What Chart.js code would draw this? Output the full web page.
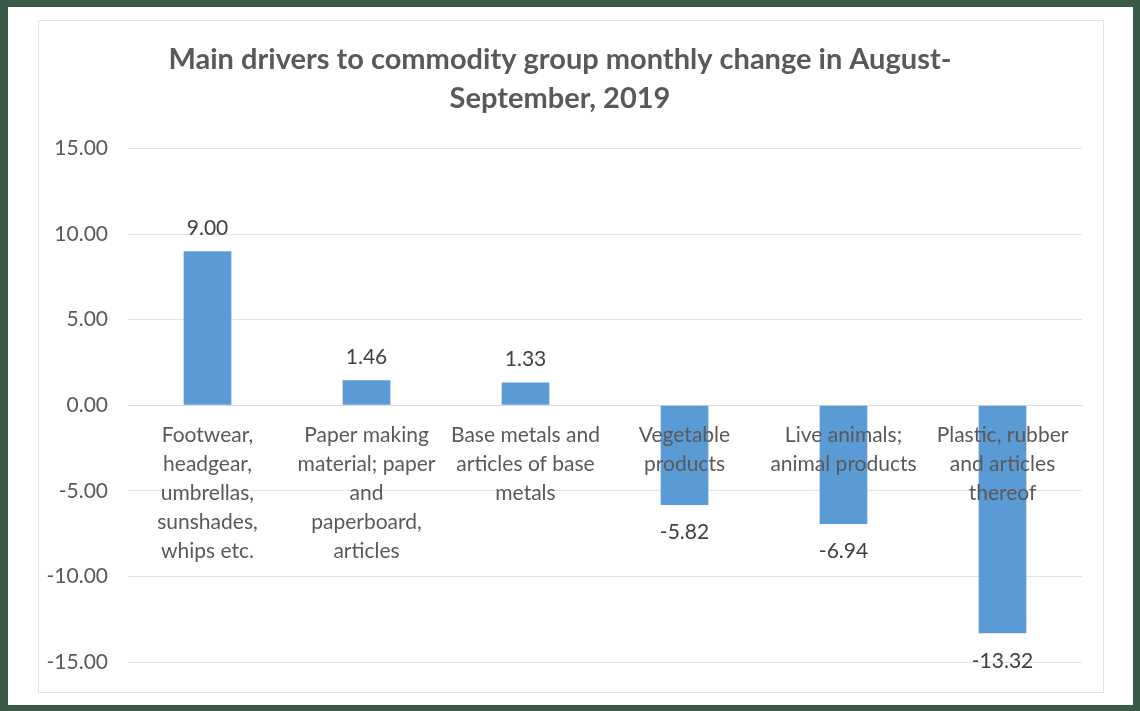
<!DOCTYPE html>
<html>
<head>
<meta charset="utf-8">
<script src="https://cdn.jsdelivr.net/npm/chart.js@4"></script>
<style>
    body { margin: 0; background: #3b5947; }
    #sheet { position: absolute; left: 8px; top: 7px; width: 1125px; height: 698px; background: #ffffff; }
    #frame { position: absolute; left: 38px; top: 20px; width: 1064px; height: 671px; border: 1px solid #e3e3e3; }
    #chart { position: absolute; left: 0; top: 0; }
</style>
</head>
<body>
<div id="sheet"></div>
<div id="frame"></div>
<canvas id="chart" width="1140" height="711"></canvas>
<script>
// categories (wrapped the same way as the original)
const categories = [
    ['Footwear,', 'headgear,', 'umbrellas,', 'sunshades,', 'whips etc.'],
    ['Paper making', 'material; paper', 'and', 'paperboard,', 'articles'],
    ['Base metals and', 'articles of base', 'metals'],
    ['Vegetable', 'products'],
    ['Live animals;', 'animal products'],
    ['Plastic, rubber', 'and articles', 'thereof']
];
const changes = [9.00, 1.46, 1.33, -5.82, -6.94, -13.32];
const yTicks = [-15, -10, -5, 0, 5, 10, 15];

const textGrey = '#595959';
const fontFamily = 'Lato, "Open Sans", sans-serif';

// value labels above / below each bar
const valueLabels = {
    id: 'valueLabels',
    afterDatasetsDraw(chart) {
        const ctx = chart.ctx;
        const meta = chart.getDatasetMeta(0);
        ctx.save();
        ctx.font = '21px ' + fontFamily;
        ctx.fillStyle = '#404040';
        ctx.textAlign = 'center';
        meta.data.forEach(function (bar, i) {
            const v = changes[i];
            if (v >= 0) {
                ctx.textBaseline = 'bottom';
                ctx.fillText(v.toFixed(2), bar.x, bar.y - 13);
            } else {
                ctx.textBaseline = 'top';
                ctx.fillText(v.toFixed(2), bar.x, bar.y + 17);
            }
        });
        ctx.restore();
    }
};

new Chart(document.getElementById('chart'), {
    type: 'bar',
    data: {
        labels: categories,
        datasets: [{
            data: changes,
            backgroundColor: '#5b9bd5',
            borderWidth: 0,
            barPercentage: 0.3,
            categoryPercentage: 1
        }]
    },
    options: {
        responsive: false,
        animation: false,
        layout: { padding: { left: 38, right: 58, top: 41, bottom: 49 } },
        plugins: {
            legend: { display: false },
            tooltip: { enabled: false },
            title: {
                display: true,
                text: ['Main drivers to commodity group monthly change in August-', 'September, 2019'],
                color: textGrey,
                font: { family: fontFamily, size: 29, weight: 'bold', lineHeight: 1.32 },
                padding: { top: 0, bottom: 31 }
            }
        },
        scales: {
            x: {
                position: { y: 0 },
                grid: { display: false, drawTicks: false },
                border: { display: true, color: '#d9d9d9' },
                ticks: {
                    z: 1, // category text sits on top of the bars, like the original
                    color: textGrey,
                    font: { family: fontFamily, size: 21, lineHeight: 1.37 },
                    padding: 16,
                    maxRotation: 0,
                    autoSkip: false
                },
                afterFit(scale) {
                    scale.height = 0;
                    scale.paddingLeft = 0;
                    scale.paddingRight = 0;
                }
            },
            y: {
                min: -15,
                max: 15,
                afterBuildTicks(scale) {
                    scale.ticks = yTicks.map(v => ({ value: v }));
                },
                grid: { color: '#e3e3e3', drawTicks: false },
                border: { display: false },
                ticks: {
                    color: textGrey,
                    font: { family: fontFamily, size: 21 },
                    padding: 20,
                    callback: v => v.toFixed(2)
                },
                afterFit(scale) {
                    scale.width = 90;
                }
            }
        }
    },
    plugins: [valueLabels]
});
</script>
</body>
</html>
